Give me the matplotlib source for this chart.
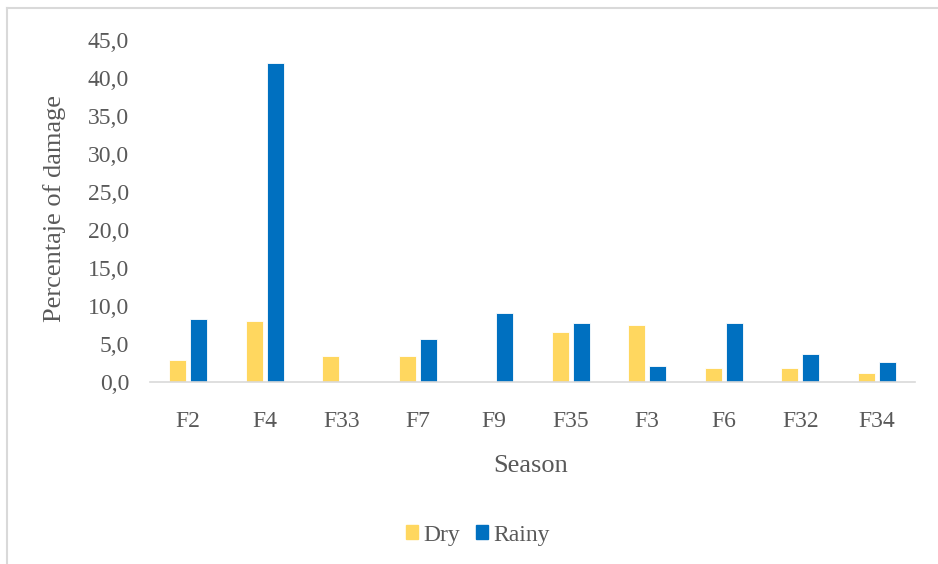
import matplotlib
matplotlib.use("Agg")
import matplotlib.pyplot as plt
from matplotlib.lines import Line2D
from matplotlib.patches import Patch
import numpy as np

categories = ["F2", "F4", "F33", "F7", "F9", "F35", "F3", "F6", "F32", "F34"]
dry = [2.8, 8.0, 3.3, 3.4, 0.0, 6.5, 7.5, 1.8, 1.8, 1.1]
rainy = [8.2, 42.0, 0.0, 5.6, 9.0, 7.7, 2.1, 7.7, 3.6, 2.6]
yticks = [0, 5, 10, 15, 20, 25, 30, 35, 40, 45]

plt.rcParams['font.family'] = ['Liberation Serif', 'DejaVu Serif']
gray = "#595959"
c_dry = "#FFD75F"
c_rainy = "#0070C0"

W, H = 938, 564
fig = plt.figure(figsize=(W / 100, H / 100), dpi=100)
ax = fig.add_axes([150 / W, (H - 381.5) / H, (915 - 150) / W, (381.5 - 40) / H])

x = np.arange(len(categories))
bw = 0.226
off = 0.137
ax.bar(x - off, dry, width=bw, color=c_dry, edgecolor="white", linewidth=0.6, label="Dry")
ax.bar(x + off, rainy, width=bw, color=c_rainy, edgecolor="white", linewidth=0.6, label="Rainy")

ax.set_xlim(-0.5, len(categories) - 0.5)
ax.set_ylim(0, 45)
ax.set_yticks(yticks)
ax.set_yticklabels([f"{v:.1f}".replace(".", ",") for v in yticks])
ax.set_xticks(x)
ax.set_xticklabels(categories)
for s in ["top", "right", "left"]:
    ax.spines[s].set_visible(False)
ax.spines["bottom"].set_color("#d9d9d9")
ax.spines["bottom"].set_linewidth(1.2)
ax.tick_params(axis="both", length=0, labelsize=17, colors=gray)
ax.tick_params(axis="y", pad=15)
ax.tick_params(axis="x", pad=21)

fig.text(55 / W, 1 - 208 / H, "Percentaje of damage", rotation=90, ha="center", va="center",
         fontsize=19, color=gray)
fig.text(531 / W, 1 - 466 / H, "Season", ha="center", va="center", fontsize=19, color=gray)

handles = [Patch(color=c_dry), Patch(color=c_rainy)]
leg = fig.legend(handles, ["Dry", "Rainy"], loc="center", bbox_to_anchor=(478 / W, 1 - 535 / H),
                 ncol=2, frameon=False, fontsize=17, handlelength=0.5, handleheight=0.5,
                 handletextpad=0.22, columnspacing=0.7)
for t in leg.get_texts():
    t.set_color(gray)

# outer chart-area border (top and left visible)
fig.add_artist(Line2D([7 / W, 1.0], [1 - 8 / H, 1 - 8 / H], transform=fig.transFigure,
                      color="#d9d9d9", linewidth=1.5))
fig.add_artist(Line2D([7 / W, 7 / W], [0.0, 1 - 8 / H], transform=fig.transFigure,
                      color="#d9d9d9", linewidth=1.5))

fig.savefig("out.png", dpi=100, facecolor="white")
